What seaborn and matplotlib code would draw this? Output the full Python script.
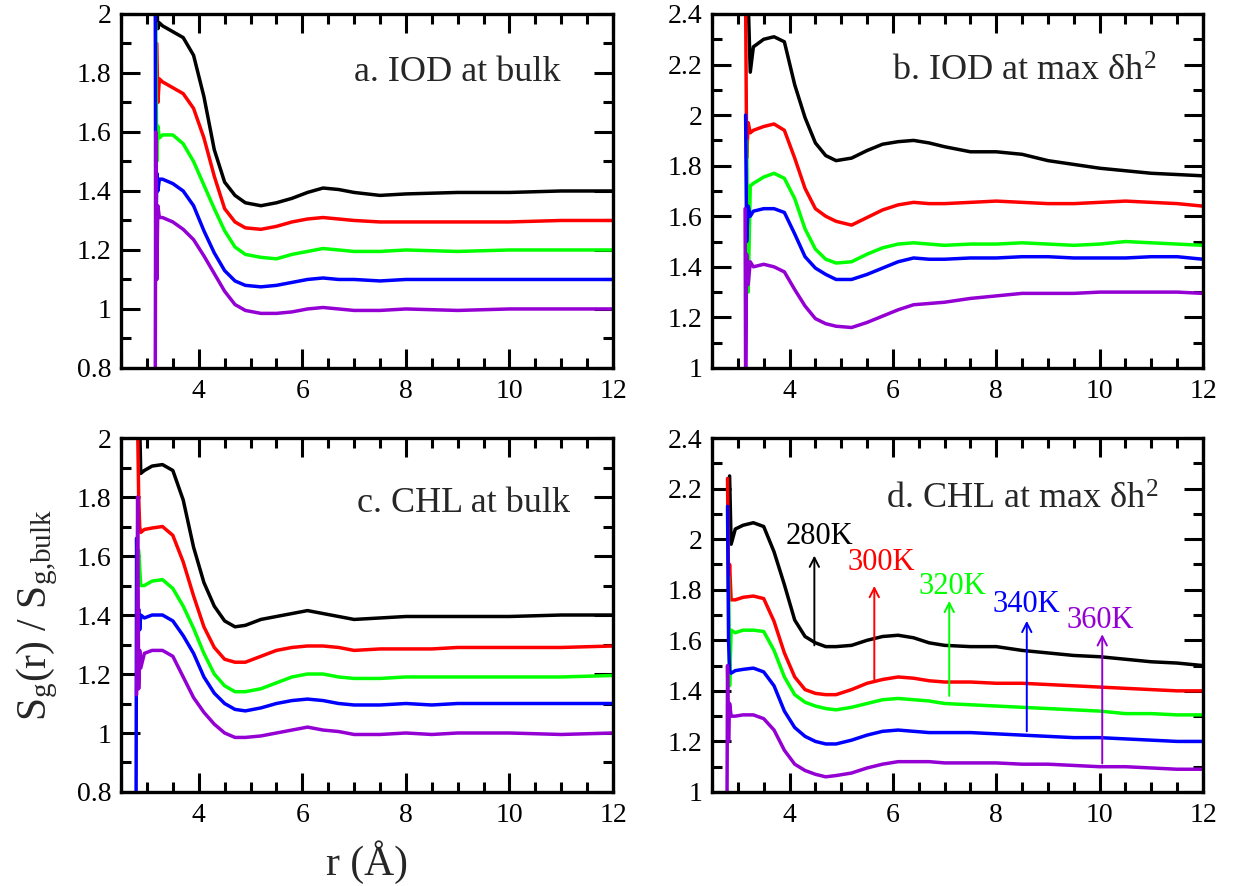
import matplotlib

matplotlib.use("Agg")
import matplotlib.pyplot as plt
import numpy as np
import pandas as pd
import seaborn as sns
from matplotlib.ticker import FuncFormatter, MultipleLocator

nan = np.nan

TEMPS = ["280K", "300K", "320K", "340K", "360K"]
COLORS = ["#000000", "#ff0000", "#00ff00", "#0000ff", "#9400d3"]

# a. IOD at bulk
r_a = [3.16, 3.17, 3.19, 3.21, 3.24,
       3.3, 3.5, 3.7, 3.9, 4.1, 4.3, 4.5, 4.7, 4.9, 5.2, 5.5, 5.8, 6.1, 6.4,
       6.7, 7.0, 7.5, 8.0, 9.0, 10.0, 11.0, 12.0]
a_280 = [nan, nan, 2.05, 1.95, 1.97,
         1.96, 1.94, 1.92, 1.86, 1.72, 1.54, 1.43, 1.385, 1.36, 1.35, 1.36, 1.375,
         1.395, 1.41, 1.405, 1.395, 1.385, 1.39, 1.395, 1.395, 1.40, 1.40]
a_300 = [nan, nan, 1.90, 1.70, 1.78,
         1.77, 1.75, 1.73, 1.68, 1.58, 1.45, 1.34, 1.295, 1.275, 1.27, 1.28, 1.295,
         1.305, 1.31, 1.305, 1.30, 1.295, 1.295, 1.295, 1.295, 1.30, 1.30]
a_320 = [nan, 1.97, 1.50, 1.62, 1.58,
         1.59, 1.59, 1.56, 1.50, 1.42, 1.34, 1.265, 1.21, 1.185, 1.175, 1.17, 1.185,
         1.195, 1.205, 1.20, 1.195, 1.195, 1.20, 1.195, 1.20, 1.20, 1.20]
a_340 = [2.10, 1.18, 1.46, 1.40, 1.44,
         1.44, 1.425, 1.40, 1.35, 1.265, 1.19, 1.13, 1.095, 1.08, 1.075, 1.08, 1.09,
         1.10, 1.105, 1.10, 1.10, 1.095, 1.10, 1.10, 1.10, 1.10, 1.10]
a_360 = [0.70, 1.60, 1.10, 1.35, 1.31,
         1.31, 1.295, 1.27, 1.235, 1.18, 1.12, 1.06, 1.015, 0.995, 0.985, 0.985, 0.99,
         1.0, 1.005, 1.0, 0.995, 0.995, 1.0, 0.995, 1.0, 1.0, 1.0]

# b. IOD at max dh^2
r_b = [3.14, 3.15, 3.17, 3.20, 3.24,
       3.3, 3.5, 3.7, 3.9, 4.1, 4.3, 4.5, 4.7, 4.9, 5.2, 5.5, 5.8, 6.1, 6.4,
       6.7, 7.0, 7.5, 8.0, 8.5, 9.0, 9.5, 10.0, 10.5, 11.0, 11.5, 12.0]
b_280 = [nan, nan, nan, 2.45, 2.17,
         2.27, 2.30, 2.31, 2.29, 2.12, 1.99, 1.89, 1.84, 1.82, 1.83, 1.86, 1.885,
         1.895, 1.90, 1.89, 1.875, 1.855, 1.855, 1.845, 1.82, 1.805, 1.79, 1.78,
         1.77, 1.765, 1.76]
b_300 = [nan, 2.45, 1.83, 1.97, 1.93,
         1.94, 1.955, 1.965, 1.94, 1.83, 1.71, 1.63, 1.60, 1.58, 1.565, 1.595, 1.625,
         1.645, 1.655, 1.65, 1.65, 1.655, 1.66, 1.655, 1.65, 1.65, 1.655, 1.66,
         1.655, 1.65, 1.64]
b_320 = [nan, nan, 1.90, 1.30, 1.72,
         1.73, 1.755, 1.77, 1.75, 1.67, 1.55, 1.47, 1.43, 1.415, 1.42, 1.45, 1.475,
         1.49, 1.495, 1.49, 1.485, 1.49, 1.49, 1.495, 1.49, 1.485, 1.49, 1.50,
         1.495, 1.49, 1.485]
b_340 = [nan, 2.0, 1.50, 1.64, 1.60,
         1.62, 1.63, 1.63, 1.615, 1.53, 1.44, 1.395, 1.37, 1.35, 1.35, 1.37, 1.395,
         1.42, 1.435, 1.43, 1.43, 1.435, 1.435, 1.44, 1.44, 1.435, 1.435, 1.435,
         1.44, 1.44, 1.43]
b_360 = [1.63, 0.95, 1.45, 1.33, 1.42,
         1.40, 1.41, 1.40, 1.38, 1.31, 1.245, 1.195, 1.175, 1.165, 1.16, 1.18, 1.205,
         1.23, 1.25, 1.255, 1.26, 1.275, 1.285, 1.295, 1.295, 1.295, 1.30, 1.30,
         1.30, 1.30, 1.295]

# c. CHL at bulk
r_c = [2.79, 2.80, 2.82, 2.84, 2.86, 2.88,
       2.95, 3.1, 3.3, 3.5, 3.7, 3.9, 4.1, 4.3, 4.5, 4.7, 4.9, 5.2, 5.5, 5.8,
       6.1, 6.4, 6.7, 7.0, 7.5, 8.0, 8.5, 9.0, 10.0, 11.0, 12.0]
c_280 = [nan, nan, nan, nan, 2.05, 1.88,
         1.89, 1.905, 1.91, 1.89, 1.79, 1.63, 1.51, 1.43, 1.38, 1.36, 1.365, 1.385,
         1.395, 1.405, 1.415, 1.405, 1.395, 1.385, 1.39, 1.395, 1.395, 1.395,
         1.395, 1.40, 1.40]
c_300 = [nan, nan, 2.05, 1.80, 1.70, 1.68,
         1.69, 1.695, 1.70, 1.67, 1.58, 1.465, 1.36, 1.29, 1.25, 1.24, 1.24, 1.26,
         1.28, 1.29, 1.295, 1.295, 1.29, 1.28, 1.285, 1.285, 1.285, 1.29, 1.29,
         1.29, 1.295]
c_320 = [nan, nan, nan, 1.62, 1.56, 1.50,
         1.50, 1.515, 1.52, 1.49, 1.43, 1.355, 1.27, 1.20, 1.16, 1.14, 1.14, 1.15,
         1.17, 1.19, 1.20, 1.20, 1.19, 1.185, 1.185, 1.19, 1.19, 1.19, 1.19, 1.19,
         1.195]
c_340 = [0.75, 1.66, 1.35, 1.42, 1.35, 1.40,
         1.39, 1.40, 1.40, 1.38, 1.33, 1.27, 1.19, 1.135, 1.10, 1.08, 1.075, 1.085,
         1.10, 1.11, 1.115, 1.11, 1.10, 1.095, 1.095, 1.10, 1.095, 1.10, 1.10,
         1.10, 1.10]
c_360 = [nan, 1.13, 1.80, 1.15, 1.28, 1.22,
         1.27, 1.28, 1.28, 1.26, 1.19, 1.12, 1.07, 1.03, 1.0, 0.985, 0.985, 0.99,
         1.0, 1.01, 1.02, 1.01, 1.005, 0.995, 0.995, 1.0, 0.995, 1.0, 1.0, 0.995,
         1.0]

# d. CHL at max dh^2
r_d = [2.79, 2.80, 2.82, 2.84, 2.87,
       2.95, 3.1, 3.3, 3.5, 3.7, 3.9, 4.1, 4.3, 4.5, 4.7, 4.9, 5.2, 5.5, 5.8,
       6.1, 6.4, 6.7, 7.0, 7.5, 8.0, 8.5, 9.0, 9.5, 10.0, 10.5, 11.0, 11.5, 12.0]
d_280 = [nan, nan, nan, 2.25, 1.98,
         2.04, 2.055, 2.065, 2.05, 1.95, 1.82, 1.68, 1.615, 1.59, 1.575, 1.575,
         1.58, 1.60, 1.615, 1.62, 1.61, 1.59, 1.58, 1.575, 1.575, 1.56, 1.55,
         1.54, 1.535, 1.525, 1.515, 1.51, 1.50]
d_300 = [nan, 2.24, 1.80, 1.90, 1.76,
         1.76, 1.77, 1.775, 1.765, 1.675, 1.55, 1.455, 1.405, 1.39, 1.385, 1.385,
         1.405, 1.43, 1.445, 1.455, 1.45, 1.44, 1.435, 1.435, 1.43, 1.43, 1.425,
         1.42, 1.415, 1.41, 1.405, 1.40, 1.40]
d_320 = [nan, nan, 1.85, 1.42, 1.64,
         1.63, 1.64, 1.64, 1.635, 1.56, 1.455, 1.385, 1.355, 1.34, 1.33, 1.325,
         1.335, 1.35, 1.365, 1.37, 1.365, 1.36, 1.35, 1.345, 1.34, 1.335, 1.33,
         1.325, 1.32, 1.31, 1.31, 1.305, 1.305]
d_340 = [nan, 2.13, 1.60, 1.48, 1.47,
         1.48, 1.485, 1.49, 1.475, 1.42, 1.32, 1.255, 1.22, 1.20, 1.19, 1.19,
         1.205, 1.225, 1.24, 1.245, 1.24, 1.235, 1.235, 1.235, 1.23, 1.225, 1.22,
         1.215, 1.215, 1.21, 1.205, 1.20, 1.20]
d_360 = [0.95, 1.50, 1.20, 1.35, 1.30,
         1.30, 1.305, 1.305, 1.29, 1.245, 1.165, 1.11, 1.085, 1.07, 1.06, 1.065,
         1.075, 1.095, 1.11, 1.12, 1.12, 1.12, 1.115, 1.115, 1.115, 1.11, 1.11,
         1.105, 1.10, 1.10, 1.095, 1.09, 1.09]

# temperature arrows in panel d: r position, arrow base, arrow tip, label height
arrow_r = [4.48, 5.64, 7.09, 8.59, 10.05]
arrow_base = [1.58, 1.445, 1.38, 1.24, 1.113]
arrow_tip = [1.935, 1.815, 1.756, 1.677, 1.624]
label_r = [4.58, 5.77, 7.15, 8.58, 10.02]
label_y = [1.98, 1.88, 1.784, 1.71, 1.648]

sns.set_theme(style="ticks")
plt.rcParams["font.family"] = ["Liberation Serif", "DejaVu Serif"]
plt.rcParams["mathtext.fontset"] = "custom"
plt.rcParams["mathtext.rm"] = "Liberation Serif"
plt.rcParams["mathtext.it"] = "Liberation Serif:italic"


def long_frame(r, series):
    """Stack the five temperature curves of one panel into long form."""
    parts = [pd.DataFrame({"r": r, "ratio": vals, "T": t}) for t, vals in zip(TEMPS, series)]
    return pd.concat(parts, ignore_index=True)


def style_axes(ax, ylim):
    ax.set_xlim(2.5, 12)
    ax.set_ylim(*ylim)
    ax.xaxis.set_major_locator(MultipleLocator(2))
    ax.xaxis.set_minor_locator(MultipleLocator(0.5))
    ax.yaxis.set_major_locator(MultipleLocator(0.2))
    ax.yaxis.set_minor_locator(MultipleLocator(0.1))
    ax.yaxis.set_major_formatter(FuncFormatter(lambda v, _: f"{v:g}"))
    ax.tick_params(which="both", direction="in", top=True, right=True, width=2.2, colors="black")
    ax.tick_params(which="major", length=14, labelsize=20)
    ax.tick_params(axis="x", which="major", pad=8)
    ax.tick_params(axis="y", which="major", pad=7)
    ax.tick_params(which="minor", length=7)
    for sp in ax.spines.values():
        sp.set_linewidth(2.4)
        sp.set_color("black")
    ax.set_xlabel("")
    ax.set_ylabel("")


fig = plt.figure(figsize=(12.34, 8.86), dpi=100)
panels = [
    ([0.0981, 0.5847, 0.3987, 0.3995], r_a, [a_280, a_300, a_320, a_340, a_360], (0.8, 2.0),
     "a. IOD at bulk", 0.893, 0.81),
    ([0.5770, 0.5847, 0.3979, 0.3995], r_b, [b_280, b_300, b_320, b_340, b_360], (1.0, 2.4),
     r"b. IOD at max δh$^{2}$", 0.905, 0.811),
    ([0.0981, 0.1061, 0.3987, 0.3995], r_c, [c_280, c_300, c_320, c_340, c_360], (0.8, 2.0),
     "c. CHL at bulk", 0.913, 0.792),
    ([0.5770, 0.1061, 0.3979, 0.3995], r_d, [d_280, d_300, d_320, d_340, d_360], (1.0, 2.4),
     r"d. CHL at max δh$^{2}$", 0.909, 0.80),
]

axes = []
for rect, r, series, ylim, title, tx, ty in panels:
    ax = fig.add_axes(rect)
    df = long_frame(r, series)
    sns.lineplot(data=df, x="r", y="ratio", hue="T", hue_order=TEMPS, palette=COLORS,
                 estimator=None, sort=False, legend=False, lw=2.5, ax=ax)
    style_axes(ax, ylim)
    ax.text(tx, ty, title, transform=ax.transAxes, ha="right", va="baseline", fontsize=26)
    axes.append(ax)

ax_d = axes[3]
for t, c, x, y0, y1, lx, ly in zip(TEMPS, COLORS, arrow_r, arrow_base, arrow_tip, label_r, label_y):
    ax_d.annotate("", xy=(x, y1), xytext=(x, y0),
                  arrowprops=dict(arrowstyle="->,head_length=0.55,head_width=0.28", color=c, lw=1.4,
                                  shrinkA=0, shrinkB=0))
    ax_d.text(lx, ly, t, color=c, ha="center", va="baseline", fontsize=22)

fig.text(0.030, 0.306, r"S$_{\mathrm{g}}$(r) / S$_{\mathrm{g{,}bulk}}$", rotation=90,
         ha="center", va="center", fontsize=30)
fig.text(0.2975, 0.027, "r (Å)", ha="center", va="center", fontsize=30)

fig.savefig("out.png", dpi=100)
